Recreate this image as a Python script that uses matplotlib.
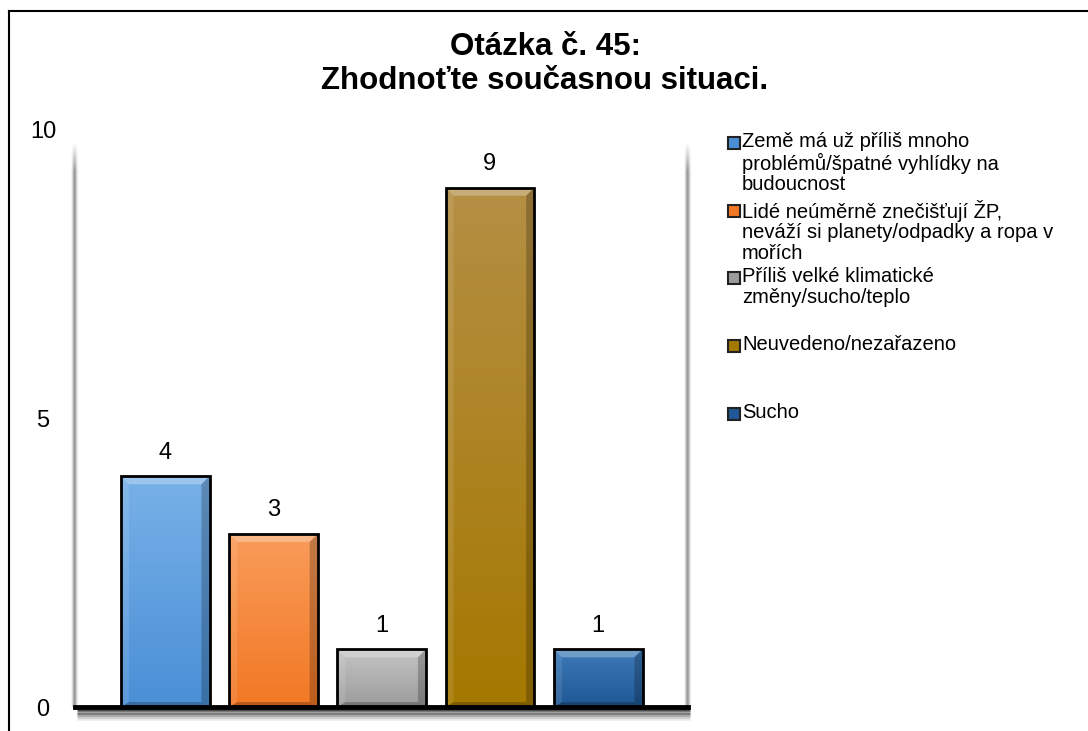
import numpy as np
import matplotlib
matplotlib.use('Agg')
from matplotlib import pyplot as plt
from matplotlib.colors import LinearSegmentedColormap
from matplotlib.patches import Polygon, Rectangle
from matplotlib.lines import Line2D
import matplotlib.transforms as mtransforms

plt.rcParams['font.family'] = ['Liberation Sans', 'DejaVu Sans']

title = 'Otázka č. 45:\nZhodnoťte současnou situaci.'
labels = ['Země má už příliš mnoho\nproblémů/špatné vyhlídky na\nbudoucnost',
          'Lidé neúměrně znečišťují ŽP,\nneváží si planety/odpadky a ropa v\nmořích',
          'Příliš velké klimatické\nzměny/sucho/teplo',
          'Neuvedeno/nezařazeno',
          'Sucho']
values = [4, 3, 1, 9, 1]
# top and bottom colour of each bar gradient
tops = ['#78b1e8', '#f99c5a', '#c4c4c4', '#b58f45', '#3d7ab8']
bottoms = ['#4a8fd6', '#f27824', '#9c9c9c', '#a57800', '#1f5894']
yticks = [0, 5, 10]

fig = plt.figure(figsize=(10.88, 7.31), dpi=100)
ax = fig.add_axes([75/1088, 24/731, 613/1088, 577/731])
xl = (-0.833, 4.83)

x = np.arange(len(values))
w = 0.82
bx, by = 0.075, 0.14   # bevel size in data units
for i, v in enumerate(values):
    bar = ax.bar(x[i], v, width=w, color=bottoms[i], edgecolor='none', zorder=3)[0]
    cmap = LinearSegmentedColormap.from_list('g%d' % i, [bottoms[i], tops[i]])
    grad = np.linspace(0, 1, 256).reshape(-1, 1)
    x0, x1 = x[i] - w/2, x[i] + w/2
    im = ax.imshow(grad, extent=[x0, x1, 0, v], origin='lower', aspect='auto',
                   cmap=cmap, zorder=3)
    im.set_clip_path(bar)
    # bevel
    ax.add_patch(Polygon([(x0, v), (x1, v), (x1-bx, v-by), (x0+bx, v-by)],
                         closed=True, fc='white', alpha=0.28, ec='none', zorder=4))
    ax.add_patch(Polygon([(x1, v), (x1, 0), (x1-bx, by*0.6), (x1-bx, v-by)],
                         closed=True, fc='black', alpha=0.22, ec='none', zorder=4))
    ax.add_patch(Polygon([(x0, v), (x0, 0), (x0+bx, by*0.6), (x0+bx, v-by)],
                         closed=True, fc='white', alpha=0.10, ec='none', zorder=4))
    ax.add_patch(Polygon([(x0, 0), (x1, 0), (x1-bx, by*0.6), (x0+bx, by*0.6)],
                         closed=True, fc='black', alpha=0.25, ec='none', zorder=4))
    ax.add_patch(Rectangle((x0, 0), w, v, fc='none', ec='black', lw=2, zorder=5))
    ax.annotate(str(v), (x[i], v), xytext=(0, 9), textcoords='offset points',
                ha='center', va='bottom', fontsize=17)

# side walls: grey strips that fade out at the top
rows = 300
yy = np.linspace(0, 1, rows)
fade = np.clip((1 - yy) / 0.05, 0, 1)
prof = np.array([0.93, 0.80, 0.62, 0.60, 0.72, 0.86, 0.95])
wall = np.ones((rows, len(prof), 4))
wall[:, :, :3] = prof[None, :, None]
wall[:, :, 3] = fade[:, None] * np.array([0.5, 0.9, 1, 1, 0.9, 0.6, 0.3])[None, :]
ww = 0.065
for xw in xl:
    ax.imshow(wall, extent=[xw - ww/2, xw + ww/2, 0, 9.78], origin='lower',
              aspect='auto', zorder=2, clip_on=False, interpolation='bilinear')

ax.set_xlim(*xl)
ax.set_ylim(0, 10)
ax.set_yticks(yticks)
ax.set_yticklabels([str(t) for t in yticks], fontsize=17)
for lab in ax.get_yticklabels():
    lab.set_ha('center')
ax.set_xticks([])
ax.tick_params(axis='y', length=0, pad=23)
for s in ['top', 'left', 'right']:
    ax.spines[s].set_visible(False)
ax.spines['bottom'].set_color('black')
ax.spines['bottom'].set_linewidth(3.5)
ax.spines['bottom'].set_zorder(6)

# floor shadow
for k, a in enumerate([0.7, 0.5, 0.32, 0.18, 0.08]):
    tr = mtransforms.offset_copy(ax.transData, fig=fig, x=1.5, y=-(2.5 + k*1.6), units='points')
    ax.plot(list(xl), [0, 0], color='black', alpha=a, lw=1.8,
            transform=tr, clip_on=False, zorder=2, solid_capstyle='butt')

fig.text(545/1088, 1 - 64/731, title, ha='center', va='center', fontsize=22.5,
         fontweight='bold', linespacing=1.15)

# legend
for i, lab in enumerate(labels):
    yc = 143 + i * 67.75
    fig.patches.append(Rectangle((728/1088, 1 - (yc + 6)/731), 12/1088, 12/731,
                                 transform=fig.transFigure, fc=bottoms[i],
                                 ec='#222222', lw=1.5))
    fig.text(742/1088, 1 - (yc - 11)/731, lab, ha='left', va='top',
             fontsize=14.5, linespacing=1.1)

# outer frame
fig.add_artist(Line2D([9/1088, 1], [1 - 11/731, 1 - 11/731], color='black', lw=1.5,
                      transform=fig.transFigure))
fig.add_artist(Line2D([9/1088, 9/1088], [1 - 11/731, 0], color='black', lw=1.5,
                      transform=fig.transFigure))

fig.savefig('out.png', dpi=100)
